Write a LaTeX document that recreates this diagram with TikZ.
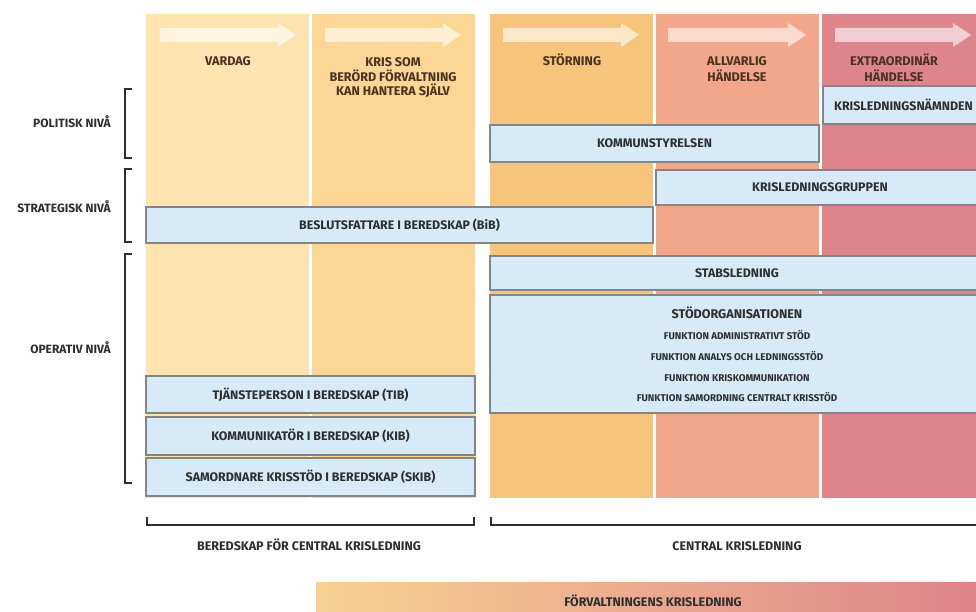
\documentclass[tikz,border=0pt]{standalone}
\usepackage{fontspec}
\setmainfont{Fira Sans}
\definecolor{cA}{HTML}{FDE4B1}
\definecolor{cB}{HTML}{FBD695}
\definecolor{cC}{HTML}{F6C57B}
\definecolor{cD}{HTML}{F2A68A}
\definecolor{cE}{HTML}{DE858C}
\definecolor{boxfill}{HTML}{D6EAF8}
\definecolor{boxline}{HTML}{858585}
\definecolor{coltxt}{HTML}{4A3222}
\definecolor{txt}{HTML}{2E2E2E}
\definecolor{barL}{HTML}{F8D192}
\definecolor{barR}{HTML}{DD8189}
\begin{document}
\begin{tikzpicture}[x=1pt,y=-1pt,
  bx/.style={draw=boxline, fill=boxfill, line width=1.1pt, inner sep=0pt, outer sep=0pt,
     anchor=north west, font=\bfseries\fontsize{12.4}{14}\selectfont, text=txt},
  collab/.style={font=\bfseries\fontsize{12.6}{14}\selectfont, text=coltxt, inner sep=0pt, anchor=base},
  sidelab/.style={font=\bfseries\fontsize{12}{14}\selectfont, text=txt, inner sep=0pt, anchor=base east},
  botlab/.style={font=\bfseries\fontsize{12.5}{14}\selectfont, text=txt, inner sep=0pt, anchor=base},
  funk/.style={font=\bfseries\fontsize{9.8}{11}\selectfont, text=txt, inner sep=0pt, anchor=base},
  brk/.style={draw=txt, line width=1.5pt},
  arr/.style={fill=white, opacity=0.6}]
\useasboundingbox (0,0) rectangle (976,612);
\clip (0,0) rectangle (976,612);
% columns
\fill[cA] (146,14) rectangle (309,498);
\fill[cB] (312,14) rectangle (475,498);
\fill[cC] (490,14) rectangle (653,498);
\fill[cD] (656,14) rectangle (819,498);
\fill[cE] (822,14) rectangle (985,498);
% arrows
\foreach \a/\b in {160/296, 325/461, 503/639, 668/806, 835/971}{
  \fill[arr] (\a,28) -- (\b-18,28) -- (\b-18,23) -- (\b,35) -- (\b-18,47) -- (\b-18,42) -- (\a,42) -- cycle;
}
% column labels
\node[collab] (vardag) at (228,66) {VARDAG};
\node[collab] (kris1) at (393,66.5) {KRIS SOM};
\node[collab] (kris2) at (393,81.5) {BERÖRD FÖRVALTNING};
\node[collab] (kris3) at (393,95.5) {KAN HANTERA SJÄLV};
\node[collab] (storn) at (572,66) {STÖRNING};
\node[collab] (allv1) at (737,66) {ALLVARLIG};
\node[collab] (allv2) at (737,82) {HÄNDELSE};
\node[collab] (extra1) at (894,66) {EXTRAORDINÄR};
\node[collab] (extra2) at (894,82) {HÄNDELSE};
% boxes
\node[bx, minimum width=161pt, minimum height=38pt] (knamnd) at (823,86) {KRISLEDNINGSNÄMNDEN};
\node[bx, minimum width=329pt, minimum height=37pt] (kstyr) at (490,125) {KOMMUNSTYRELSEN};
\node[bx, minimum width=328pt, minimum height=35pt] (kgrupp) at (656,170) {KRISLEDNINGSGRUPPEN};
\node[bx, minimum width=507pt, minimum height=36pt] (bib) at (146,207) {BESLUTSFATTARE I BEREDSKAP (BiB)};
\node[bx, minimum width=494pt, minimum height=34pt] (stab) at (490,256) {STABSLEDNING};
\node[bx, minimum width=494pt, minimum height=118pt] (stod) at (490,295) {};
\node[bx, minimum width=329pt, minimum height=37pt] (tib) at (146,376) {TJÄNSTEPERSON I BEREDSKAP (TIB)};
\node[bx, minimum width=329pt, minimum height=38pt] (kib) at (146,417) {KOMMUNIKATÖR I BEREDSKAP (KIB)};
\node[bx, minimum width=329pt, minimum height=38pt] (skib) at (146,458) {SAMORDNARE KRISSTÖD I BEREDSKAP (SKIB)};
% stod texts
\node[collab, text=txt] (stodh) at (737,318) {STÖDORGANISATIONEN};
\node[funk] (f1) at (737,339) {FUNKTION ADMINISTRATIVT STÖD};
\node[funk] (f2) at (737,360) {FUNKTION ANALYS OCH LEDNINGSSTÖD};
\node[funk] (f3) at (737,381) {FUNKTION KRISKOMMUNIKATION};
\node[funk] (f4) at (737,401) {FUNKTION SAMORDNING CENTRALT KRISSTÖD};
% side brackets
\draw[brk] (132,89) -- (125,89) -- (125,158) -- (132,158);
\draw[brk] (132,169) -- (125,169) -- (125,242) -- (132,242);
\draw[brk] (132,254) -- (125,254) -- (125,483) -- (132,483);
\node[sidelab] (pol) at (111,128) {POLITISK NIVÅ};
\node[sidelab] (strat) at (111,213) {STRATEGISK NIVÅ};
\node[sidelab] (oper) at (111,353) {OPERATIV NIVÅ};
% bottom brackets
\draw[brk] (147,517) -- (147,525) -- (474,525) -- (474,517);
\draw[brk] (491,517) -- (491,525) -- (990,525);
\node[botlab] (bered) at (309,550) {BEREDSKAP FÖR CENTRAL KRISLEDNING};
\node[botlab] (central) at (737,550) {CENTRAL KRISLEDNING};
% bar
\shade[left color=barL, right color=barR] (316,582) rectangle (996,620);
\node[botlab] (forv) at (653,606) {FÖRVALTNINGENS KRISLEDNING};
\end{tikzpicture}
\end{document}
